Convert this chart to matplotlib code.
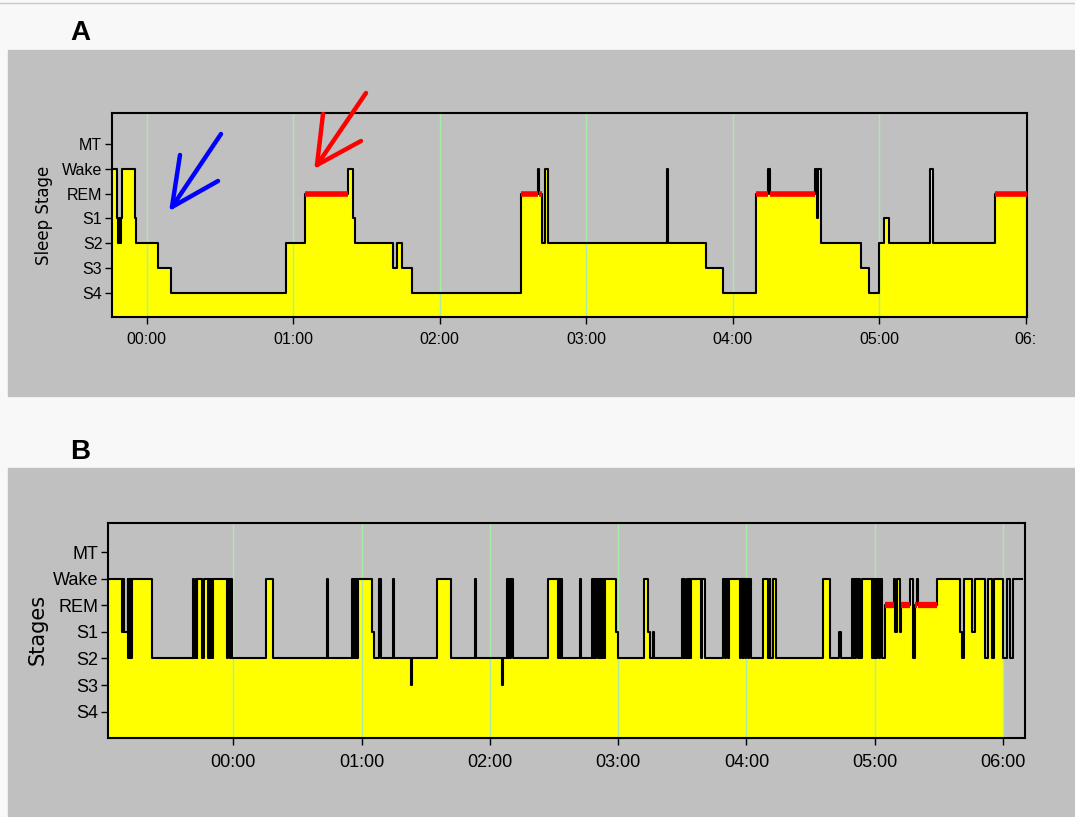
import numpy as np
import matplotlib
matplotlib.use("Agg")
import matplotlib.pyplot as plt
from matplotlib.patches import Rectangle
from matplotlib.lines import Line2D

# stage codes -> plotting level (S4 at the bottom, MT on top)
stage_levels = {'S4': 0, 'S3': 1, 'S2': 2, 'S1': 3, 'REM': 4, 'W': 5, 'MT': 6}
ytick_names = ['MT', 'Wake', 'REM', 'S1', 'S2', 'S3', 'S4']
ytick_codes = ['MT', 'W', 'REM', 'S1', 'S2', 'S3', 'S4']

hour_ticks = [0, 60, 120, 180, 240, 300, 360]
a_xlabels = ['00:00', '01:00', '02:00', '03:00', '04:00', '05:00', '06:']
b_xlabels = ['00:00', '01:00', '02:00', '03:00', '04:00', '05:00', '06:00']

# panel A: minutes from midnight where each stage starts
a_minutes = [-14.2, -12.0, -11.6, -11.1, -10.8, -10.4, -10.0, -4.8, -4.4, 4.75,
             9.8, 57.1, 65.0, 82.6, 84.6, 85.3, 101.0, 102.4, 104.4, 108.8,
             153.3, 160.4, 160.8, 162.0, 163.1, 164.5, 213.0, 213.5, 229.0, 236.2,
             249.6, 254.6, 255.3, 273.7, 274.7, 275.1, 276.1, 292.6, 296.0, 300.0,
             302.1, 304.0, 320.8, 322.2, 347.6]
a_stages = ['W', 'S1', 'S2', 'S1', 'S2', 'S1', 'W', 'S1', 'S2', 'S3',
            'S4', 'S2', 'REM', 'W', 'S1', 'S2', 'S3', 'S2', 'S3', 'S4',
            'REM', 'W', 'REM', 'S2', 'W', 'S2', 'W', 'S2', 'S3', 'S4',
            'REM', 'W', 'REM', 'W', 'S1', 'W', 'S2', 'S3', 'S4', 'S2',
            'S1', 'S2', 'W', 'S2', 'REM']
a_end = 360.6

# panel B
b_minutes = [-58.5, -52.2, -51.7, -51.3, -49.5, -49.1, -48.8, -48.4, -48.1, -47.7,
             -47.2, -38.2, -18.7, -18.2, -17.7, -17.2, -16.8, -14.6, -13.9, -11.8,
             -11.3, -10.9, -10.4, -10.0, -9.5, -2.9, -2.5, -1.8, -1.3, -0.7,
             15.4, 18.4, 43.7, 44.2, 55.4, 55.9, 56.6, 57.1, 57.5, 58.0,
             58.5, 65.0, 65.9, 68.3, 68.9, 74.6, 75.0, 82.9, 83.4, 95.4,
             101.8, 113.0, 113.4, 125.6, 126.0, 127.9, 128.3, 128.8, 129.3, 129.9,
             131.0, 147.3, 151.7, 152.2, 152.7, 153.1, 153.6, 153.9, 162.2, 162.6,
             167.6, 168.1, 168.6, 169.0, 169.6, 170.6, 171.1, 171.5, 172.0, 172.5,
             172.9, 173.4, 173.9, 179.0, 180.1, 192.2, 193.8, 194.7, 196.2, 196.7,
             209.7, 210.3, 210.8, 211.3, 212.0, 212.7, 213.2, 213.6, 214.1, 218.7,
             219.4, 220.4, 229.2, 230.0, 230.4, 231.4, 231.9, 237.0, 237.5, 238.2,
             238.6, 239.3, 240.0, 240.7, 241.2, 241.9, 247.9, 250.0, 250.8, 251.2,
             252.6, 253.6, 275.9, 279.3, 283.4, 284.3, 289.2, 289.8, 290.3, 291.0,
             291.4, 292.1, 292.6, 293.3, 293.9, 298.6, 299.0, 299.6, 300.1, 300.8,
             301.3, 302.2, 302.7, 303.4, 304.8, 308.8, 309.7, 310.3, 311.6, 312.5,
             316.5, 318.1, 318.8, 319.6, 320.4, 329.0, 339.9, 340.7, 341.7, 345.3,
             346.9, 351.6, 353.1, 354.7, 355.9, 360.1, 361.7, 363.2, 364.8]
b_stages = ['W', 'S1', 'W', 'S1', 'W', 'S2', 'W', 'S2', 'W', 'S2',
            'W', 'S2', 'W', 'S2', 'W', 'S2', 'W', 'S2', 'W', 'S2',
            'W', 'S2', 'W', 'S2', 'W', 'S2', 'W', 'S2', 'W', 'S2',
            'W', 'S2', 'W', 'S2', 'W', 'S2', 'W', 'S2', 'W', 'S2',
            'W', 'S1', 'S2', 'W', 'S2', 'W', 'S2', 'S3', 'S2', 'W',
            'S2', 'W', 'S2', 'S3', 'S2', 'W', 'S2', 'W', 'S2', 'W',
            'S2', 'W', 'S2', 'W', 'S2', 'W', 'S1', 'S2', 'W', 'S2',
            'W', 'S2', 'W', 'S2', 'W', 'S2', 'W', 'S2', 'W', 'S2',
            'W', 'S2', 'W', 'S1', 'S2', 'W', 'S1', 'S2', 'S1', 'S2',
            'W', 'S2', 'W', 'S2', 'W', 'S2', 'W', 'S2', 'W', 'S2',
            'W', 'S2', 'W', 'S2', 'W', 'S2', 'W', 'S2', 'W', 'S2',
            'W', 'S2', 'W', 'S2', 'W', 'S2', 'W', 'S2', 'W', 'S2',
            'W', 'S2', 'W', 'S2', 'S1', 'S2', 'W', 'S2', 'W', 'S2',
            'W', 'S2', 'W', 'S2', 'W', 'S2', 'W', 'S2', 'W', 'S2',
            'W', 'S2', 'W', 'S2', 'REM', 'W', 'S1', 'W', 'S1', 'REM',
            'W', 'S2', 'REM', 'W', 'REM', 'W', 'S1', 'S2', 'W', 'S1',
            'W', 'S2', 'W', 'S2', 'W', 'S2', 'W', 'S2', 'W']
b_end = 368.7
b_fill_end = 360.0   # yellow shading stops at 06:00

BG = '#c0c0c0'
FONT = ['Liberation Sans', 'DejaVu Sans']

fig = plt.figure(figsize=(10.75, 8.17), dpi=100, facecolor='#f8f8f8')

# gray panel boxes and thin top rule (behind the axes)
fig.patches.append(Rectangle((8 / 1075, 1 - 396 / 817), 1, 346 / 817,
                             transform=fig.transFigure, color=BG, zorder=-5))
fig.patches.append(Rectangle((8 / 1075, 0), 1, 349 / 817,
                             transform=fig.transFigure, color=BG, zorder=-5))
fig.add_artist(Line2D([0, 1], [1 - 3 / 817, 1 - 3 / 817], color='#c8c8c8', lw=1,
                      transform=fig.transFigure))


def draw_panel(ax, minutes, stages, end, xlim, ylim, xlabels, fsize, fill_end, red_lw):
    t = np.append(np.array(minutes), end)
    lv = [stage_levels[s] for s in stages]
    y = np.append(lv, lv[-1])
    ax.set_facecolor(BG)
    tf = np.minimum(t, fill_end)
    ax.fill_between(tf, ylim[0], y, step='post', color='#ffff00', lw=0, zorder=1)
    for h in hour_ticks:
        ax.axvline(h, color='#a8eca8', lw=1, zorder=2)
    ax.step(t, y, where='post', color='black', lw=1.5, zorder=3)
    for i, s in enumerate(stages):
        if s == 'REM':
            ax.hlines(stage_levels['REM'], t[i], t[i + 1], color='#ff0000',
                      lw=red_lw, zorder=4)
    ax.set_xlim(*xlim)
    ax.set_ylim(*ylim)
    ax.set_xticks(hour_ticks)
    ax.set_xticklabels(xlabels, family=FONT, fontsize=fsize)
    ax.set_yticks([stage_levels[c] for c in ytick_codes])
    ax.set_yticklabels(ytick_names, family=FONT, fontsize=fsize)
    ax.tick_params(direction='out', length=5, width=1, color='black', pad=2)
    ax.tick_params(axis='x', pad=6)
    for sp in ax.spines.values():
        sp.set_linewidth(1.5)
        sp.set_color('black')


axA = fig.add_axes([112 / 1075, 1 - 317 / 817, 915 / 1075, 204 / 817])
draw_panel(axA, a_minutes, a_stages, a_end, (-14.2, 360.6), (-0.98, 7.25),
           a_xlabels, 11.5, a_end, 4)

axB = fig.add_axes([108.3 / 1075, 1 - 738.3 / 817, 916.7 / 1075, 215 / 817])
draw_panel(axB, b_minutes, b_stages, b_end, (-58.5, 370.3), (-1.0, 7.08),
           b_xlabels, 13, b_fill_end, 4.5)

fig.text(44 / 1075, 1 - 215 / 817, 'Sleep Stage', rotation=90, ha='center',
         va='center', fontsize=12, family=['DejaVu Sans'])
fig.text(38 / 1075, 1 - 629 / 817, 'Stages', rotation=90, ha='center',
         va='center', fontsize=15, family=['DejaVu Sans'])

fig.text(80 / 1075, 1 - 33 / 817, 'A', ha='center', va='center', fontsize=20,
         fontweight='bold', family=FONT)
fig.text(80 / 1075, 1 - 452 / 817, 'B', ha='center', va='center', fontsize=20,
         fontweight='bold', family=FONT)


# hand-drawn style arrows (figure pixel positions)
def px(x, y):
    return x / 1075, 1 - y / 817


arrows = [
    ('#0000ff', (221, 134), (172, 207), (180, 155), (218, 181)),
    ('#ff0000', (366, 93), (317, 165), (323, 114), (361, 141)),
]
for col, start, tip, b1, b2 in arrows:
    for p in (start, b1, b2):
        (x0, y0), (x1, y1) = px(*p), px(*tip)
        fig.add_artist(Line2D([x0, x1], [y0, y1], color=col, lw=3.2,
                              solid_capstyle='round', transform=fig.transFigure))

fig.savefig('out.png', dpi=100, facecolor=fig.get_facecolor())
